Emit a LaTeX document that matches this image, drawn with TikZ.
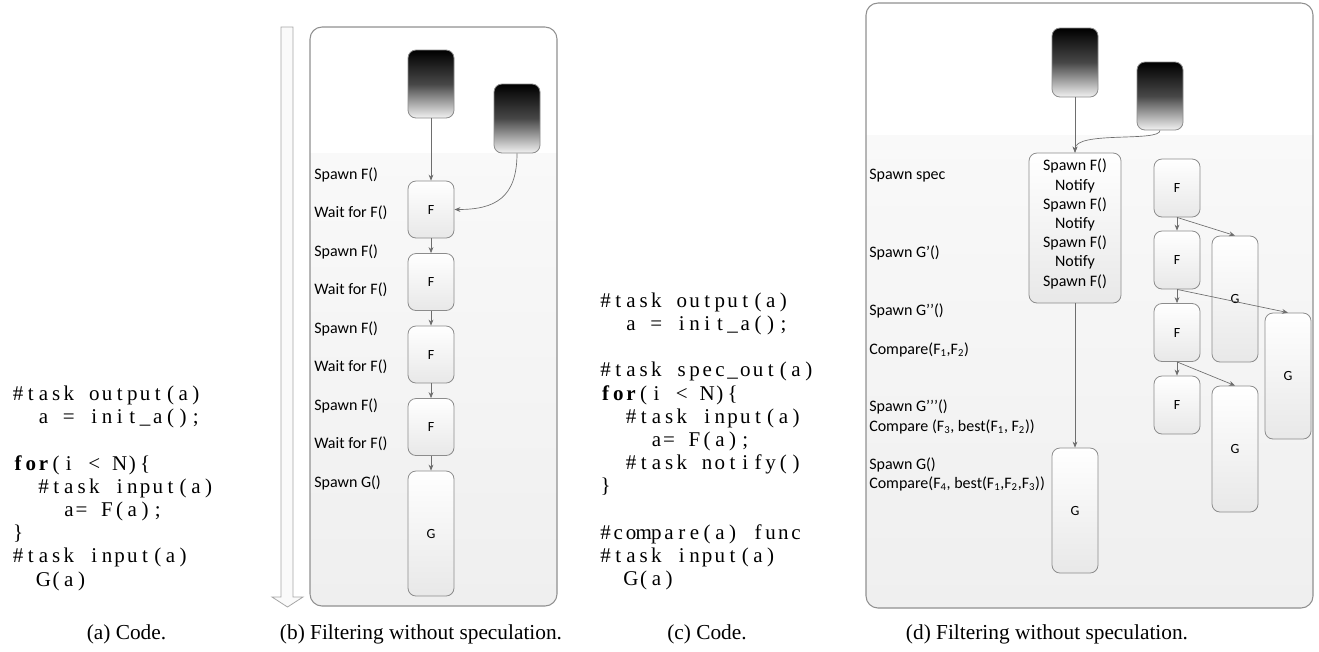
\documentclass[tikz,border=0pt]{standalone}
\usepackage{fontspec}
\setmainfont{Liberation Serif}
\newfontfamily\calfont{Carlito}
\usetikzlibrary{arrows.meta}
\definecolor{edgegray}{HTML}{6E6E6E}
\definecolor{boxline}{HTML}{8C8C8C}
\definecolor{frameline}{HTML}{909090}
\definecolor{bandtop}{HTML}{F9F9F9}
\definecolor{bandbot}{HTML}{EFEFEF}
\newcommand\PX{0.75pt}
\makeatletter
\newlength\colw
\setlength\colw{9.525pt}
% typeset a code line in fixed-width columns
\newcommand\fixcols[1]{\@tfor\fc@tok:=#1\do{\makebox[\colw][c]{\fc@tok}}}
\makeatother
\tikzset{
  darkbox/.style={draw=boxline, line width=0.6pt, rounded corners=6pt,
    top color=black, bottom color=white!95!black, middle color=black!72,
    minimum width=46*\PX, inner sep=0pt},
  taskbox/.style={draw=boxline, line width=0.6pt, rounded corners=6pt,
    top color=white, bottom color=black!9, minimum width=46*\PX, inner sep=0pt,
    font=\calfont\fontsize{10.5pt}{12pt}\selectfont},
  panel/.style={draw=frameline, line width=0.8pt, rounded corners=9pt, inner sep=0pt},
  flow/.style={draw=edgegray, line width=0.5pt, -{Stealth[length=4.5pt,width=3.6pt]}},
  lbl/.style={anchor=west, inner sep=0pt, font=\calfont\fontsize{12pt}{14pt}\selectfont},
  codeln/.style={anchor=base west, inner sep=0pt, font=\fontsize{15.75pt}{17pt}\selectfont},
  capt/.style={anchor=base, inner sep=0pt, font=\fontsize{16pt}{18pt}\selectfont},
}
\begin{document}
\begin{tikzpicture}[x=0.75pt, y=-0.75pt]
\useasboundingbox (0,0) rectangle (1319,651);

% ---------------- (a) code ----------------
\node[codeln] (a0) at (11.5,400.4) {\fixcols{\#task~output(a)}};
\node[codeln] (a1) at (11.5,423.6) {\fixcols{~~a~=~init\_a();}};
\node[codeln] (a3) at (11.5,470.0) {\fixcols{{\bfseries f}{\bfseries o}{\bfseries r}(i~<~N)\{}};
\node[codeln] (a4) at (11.5,493.2) {\fixcols{~~\#task~input(a)}};
\node[codeln] (a5) at (11.5,516.4) {\fixcols{~~~~a=~F(a);}};
\node[codeln] (a6) at (11.5,539.6) {\fixcols{\}}};
\node[codeln] (a7) at (11.5,562.8) {\fixcols{\#task~input(a)}};
\node[codeln] (a8) at (11.5,586.0) {\fixcols{~~G(a)}};

% ---------------- (b) without speculation ----------------
\draw[draw=black!35, fill=black!2, line width=0.6pt]
  (281,27) -- (281,597) -- (272,597) -- (287.5,607) -- (303,597) -- (293,597) -- (293,27) -- cycle;
\begin{scope}
  \clip[rounded corners=9pt] (310,27) rectangle (557,606);
  \fill[white] (310,27) rectangle (557,153);
  \shade[top color=bandtop, bottom color=bandbot] (310,153) rectangle (557,606);
\end{scope}
\node[panel, minimum width=247*\PX, minimum height=579*\PX] (fb) at (433.5,316.5) {};

\node[darkbox, minimum height=68*\PX] (bd1) at (431,84) {};
\node[darkbox, minimum height=69*\PX] (bd2) at (517,118.5) {};
\node[taskbox, minimum height=57*\PX] (bf1) at (431,209.5) {F};
\node[taskbox, minimum height=57*\PX] (bf2) at (431,282) {F};
\node[taskbox, minimum height=57*\PX] (bf3) at (431,354.5) {F};
\node[taskbox, minimum height=57*\PX] (bf4) at (431,427) {F};
\node[taskbox, minimum height=125*\PX] (bg) at (431,533.5) {G};

\draw[flow] (bd1.south) -- (bf1.north);
\draw[flow] (bd2.south) .. controls +(0,45) and +(40,0) .. (bf1.east);
\draw[flow] (bf1.south) -- (bf2.north);
\draw[flow] (bf2.south) -- (bf3.north);
\draw[flow] (bf3.south) -- (bf4.north);
\draw[flow] (bf4.south) -- (bg.north);

\node[lbl] (bl1) at (314,175) {Spawn F()};
\node[lbl] (bl2) at (314,212.5) {Wait for F()};
\node[lbl] (bl3) at (314,252) {Spawn F()};
\node[lbl] (bl4) at (314,290) {Wait for F()};
\node[lbl] (bl5) at (314,329) {Spawn F()};
\node[lbl] (bl6) at (314,367) {Wait for F()};
\node[lbl] (bl7) at (314,406) {Spawn F()};
\node[lbl] (bl8) at (314,444) {Wait for F()};
\node[lbl] (bl9) at (314,483) {Spawn G()};

% ---------------- (c) code ----------------
\node[codeln] (c0) at (599,307.2) {\fixcols{\#task~output(a)}};
\node[codeln] (c1) at (599,330.4) {\fixcols{~~a~=~init\_a();}};
\node[codeln] (c3) at (599,376.8) {\fixcols{\#task~spec\_out(a)}};
\node[codeln] (c4) at (599,400.0) {\fixcols{{\bfseries f}{\bfseries o}{\bfseries r}(i~<~N)\{}};
\node[codeln] (c5) at (599,423.2) {\fixcols{~~\#task~input(a)}};
\node[codeln] (c6) at (599,446.4) {\fixcols{~~~~a=~F(a);}};
\node[codeln] (c7) at (599,469.6) {\fixcols{~~\#task~notify()}};
\node[codeln] (c8) at (599,492.8) {\fixcols{\}}};
\node[codeln] (c10) at (599,539.2) {\fixcols{\#compare(a)~func}};
\node[codeln] (c11) at (599,562.4) {\fixcols{\#task~input(a)}};
\node[codeln] (c12) at (599,585.6) {\fixcols{~~G(a)}};

% ---------------- (d) with speculative spawning ----------------
\begin{scope}
  \clip[rounded corners=9pt] (866,3) rectangle (1313,608);
  \fill[white] (866,3) rectangle (1313,135);
  \shade[top color=bandtop, bottom color=bandbot] (866,135) rectangle (1313,608);
\end{scope}
\node[panel, minimum width=447*\PX, minimum height=605*\PX] (fd) at (1089.5,305.5) {};

\node[darkbox, minimum height=69*\PX] (dd1) at (1075,62.5) {};
\node[darkbox, minimum height=68*\PX] (dd2) at (1160,96) {};
\node[taskbox, minimum width=92*\PX, minimum height=150*\PX] (ds) at (1075,228) {};
\node[inner sep=0pt, align=center, font=\calfont\fontsize{12pt}{14.4pt}\selectfont]
  (dst) at (1075,224) {Spawn F()\\Notify\\Spawn F()\\Notify\\Spawn F()\\Notify\\Spawn F()};
\node[taskbox, minimum height=125*\PX] (dg) at (1075,510.5) {G};

\node[taskbox, minimum height=58*\PX] (df1) at (1177,188) {F};
\node[taskbox, minimum height=58*\PX] (df2) at (1177,260) {F};
\node[taskbox, minimum height=58*\PX] (df3) at (1177,332.5) {F};
\node[taskbox, minimum height=58*\PX] (df4) at (1177,405) {F};
\node[taskbox, minimum height=126*\PX] (dg1) at (1235,299) {G};
\node[taskbox, minimum height=126*\PX] (dg2) at (1235,449) {G};
\node[taskbox, minimum height=126*\PX] (dg3) at (1288,376) {G};

\draw[flow] (dd1.south) -- (ds.north);
\draw[flow] (dd2.south) .. controls +(0,12) and +(0,-22) .. (ds.north);
\draw[flow] (ds.south) -- (dg.north);
\draw[flow] (df1.south) -- (df2.north);
\draw[flow] (df2.south) -- (df3.north);
\draw[flow] (df3.south) -- (df4.north);
\draw[flow] (df1.south) -- (dg1.north);
\draw[flow] (df2.south) -- (dg3.north);
\draw[flow] (df3.south) -- (dg2.north);

\node[lbl] (dl1) at (869,176) {Spawn spec};
\node[lbl] (dl2) at (869,253) {Spawn G’()};
\node[lbl] (dl3) at (869,311) {Spawn G’’()};
\node[lbl] (dl4) at (869,350) {Compare(F\textsubscript{1},F\textsubscript{2})};
\node[lbl] (dl5) at (869,407) {Spawn G’’’()};
\node[lbl] (dl6) at (869,427) {Compare (F\textsubscript{3}, best(F\textsubscript{1}, F\textsubscript{2}))};
\node[lbl] (dl7) at (869,465) {Spawn G()};
\node[lbl] (dl8) at (869,484) {Compare(F\textsubscript{4}, best(F\textsubscript{1},F\textsubscript{2},F\textsubscript{3}))};

% ---------------- captions ----------------
\node[capt] (ca) at (126.5,639) {(a) Code.};
\node[capt] (cb) at (421,639) {(b) Filtering without speculation.};
\node[capt] (cc) at (707,639) {(c) Code.};
\node[capt] (cd) at (1047,639) {(d) Filtering without speculation.};
\end{tikzpicture}
\end{document}
